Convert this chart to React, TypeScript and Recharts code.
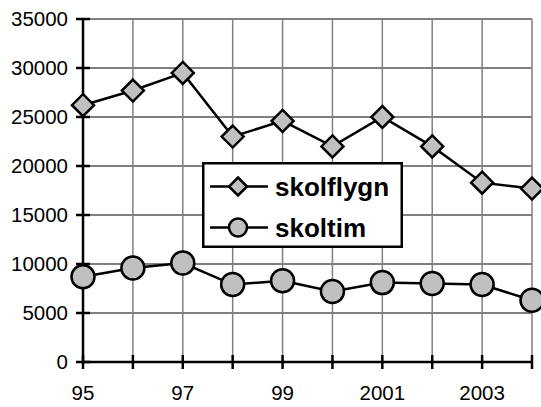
import { CartesianGrid, Line, LineChart, ReferenceLine, XAxis, YAxis } from "recharts";

// ── data ────────────────────────────────────────────────────────────────────

const years = ["95", "96", "97", "98", "99", "2000", "2001", "2002", "2003", "2004"];
const skolflygn = [26200, 27700, 29500, 23000, 24600, 22000, 25000, 22000, 18300, 17700];
const skoltim = [8700, 9600, 10100, 7900, 8300, 7200, 8100, 8000, 7900, 6300];
const yTicks = [0, 5000, 10000, 15000, 20000, 25000, 30000, 35000];

const data = years.map((year, i) => ({
  year,
  skolflygn: skolflygn[i],
  skoltim: skoltim[i],
}));

const FONT = "'Liberation Sans', Arial, sans-serif";
const MARKER_FILL = "#c0c0c0";

// ── markers ─────────────────────────────────────────────────────────────────

interface DotProps {
  cx?: number;
  cy?: number;
  index?: number;
  [key: string]: unknown;
}

function Diamond({ cx = 0, cy = 0, s = 11 }: { cx?: number; cy?: number; s?: number }) {
  return (
    <polygon
      points={`${cx},${cy - s} ${cx + s},${cy} ${cx},${cy + s} ${cx - s},${cy}`}
      fill={MARKER_FILL}
      stroke="#000"
      strokeWidth={2.5}
    />
  );
}

function DiamondDot({ cx, cy, index }: DotProps) {
  return <Diamond key={`d-${index}`} cx={cx} cy={cy} />;
}

// ── ticks ───────────────────────────────────────────────────────────────────

function YTick({ y = 0, payload }: any) {
  const ax = 83;
  return (
    <g>
      <line x1={ax - 7} x2={ax + 7} y1={y} y2={y} stroke="#000" strokeWidth={2.5} />
      <text x={68} y={y} dy="0.35em" textAnchor="end" fontFamily={FONT} fontSize={20.5} fill="#000">
        {payload.value}
      </text>
    </g>
  );
}

function XTick({ x = 0, payload, index }: any) {
  const ay = 362;
  return (
    <g>
      <line x1={x} x2={x} y1={ay - 7} y2={ay + 7} stroke="#000" strokeWidth={2.5} />
      {index % 2 === 0 && (
        <text x={x} y={393} dy="0.35em" textAnchor="middle" fontFamily={FONT} fontSize={20.5} fill="#000">
          {payload.value}
        </text>
      )}
    </g>
  );
}

// ── legend ──────────────────────────────────────────────────────────────────

function LegendBox() {
  return (
    <svg width={201} height={86} style={{ display: "block" }}>
      <rect x={1.25} y={1.25} width={198.5} height={83.5} fill="#fff" stroke="#000" strokeWidth={2.5} />
      <line x1={8} x2={66} y1={24.5} y2={24.5} stroke="#000" strokeWidth={2.5} />
      <Diamond cx={36} cy={24.5} s={9} />
      <text x={73} y={24.5} dy="0.35em" fontFamily={FONT} fontSize={26} fontWeight="bold">
        skolflygn
      </text>
      <line x1={8} x2={66} y1={65.5} y2={65.5} stroke="#000" strokeWidth={2.5} />
      <circle cx={36} cy={65.5} r={9} fill={MARKER_FILL} stroke="#000" strokeWidth={2.5} />
      <text x={73} y={65.5} dy="0.35em" fontFamily={FONT} fontSize={26} fontWeight="bold">
        skoltim
      </text>
    </svg>
  );
}

// ── App ─────────────────────────────────────────────────────────────────────

export default function App() {
  return (
    <div style={{ position: "absolute", left: 0, top: 0, width: 541, height: 407, background: "#fff" }}>
      <LineChart width={541} height={407} data={data} margin={{ top: 19, right: 9, bottom: 0, left: 0 }}>
        <CartesianGrid stroke="#000" strokeWidth={1} vertical={false} />
        <CartesianGrid stroke="#808080" strokeWidth={1.5} horizontal={false} />
        <ReferenceLine y={35000} stroke="#808080" strokeWidth={2} />
        <XAxis
          dataKey="year"
          scale="point"
          padding={{ left: 0, right: 0 }}
          interval={0}
          tickLine={false}
          axisLine={{ stroke: "#000", strokeWidth: 2.5 }}
          tick={<XTick />}
          height={45}
        />
        <YAxis
          domain={[0, 35000]}
          ticks={yTicks}
          interval={0}
          tickLine={false}
          axisLine={{ stroke: "#000", strokeWidth: 2.5 }}
          tick={<YTick />}
          width={83}
        />
        <Line
          dataKey="skolflygn"
          stroke="#000"
          strokeWidth={2.5}
          dot={<DiamondDot />}
          isAnimationActive={false}
        />
        <Line
          dataKey="skoltim"
          stroke="#000"
          strokeWidth={2.5}
          dot={{ r: 11.5, fill: MARKER_FILL, stroke: "#000", strokeWidth: 2.5 }}
          isAnimationActive={false}
        />
      </LineChart>
      <div style={{ position: "absolute", left: 202, top: 162 }}>
        <LegendBox />
      </div>
    </div>
  );
}
